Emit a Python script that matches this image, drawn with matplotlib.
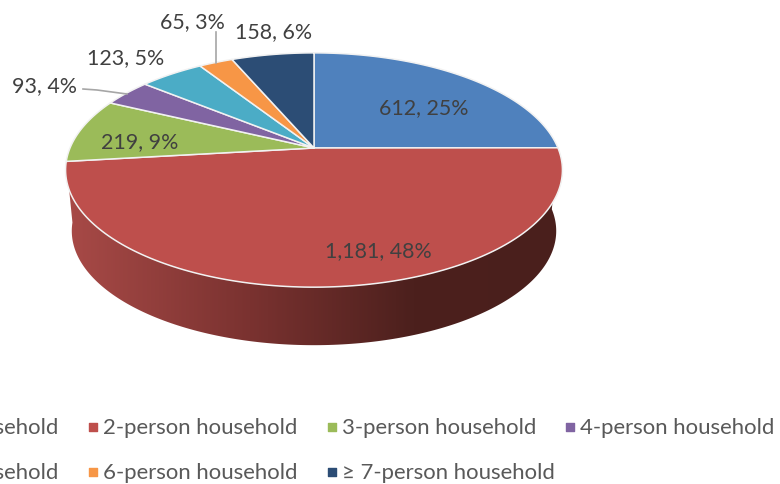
import numpy as np
import matplotlib
matplotlib.use('Agg')
import matplotlib.pyplot as plt
from matplotlib.colors import LinearSegmentedColormap
from matplotlib.patches import Polygon

plt.rcParams['font.family'] = ['Lato', 'DejaVu Sans']

categories = ['1-person household', '2-person household', '3-person household', '4-person household',
              '5-person household', '6-person household', '≥ 7-person household']
values = [612, 1181, 219, 93, 123, 65, 158]
percents = [25, 48, 9, 4, 5, 3, 6]
colors = ['#4F81BD', '#BE4F4C', '#9BBB59', '#8064A2', '#4BACC6', '#F79646', '#2C4D75']
text_color = '#404040'

# axes in reference pixels
fig = plt.figure(figsize=(7.8, 4.85), dpi=100)
ax = fig.add_axes([0, 0, 1, 1])
ax.set_xlim(0, 780)
ax.set_ylim(485, 0)
ax.axis('off')

# apex of the pie and the tilt of its plane
cx, cy = 314, 149
b, a, k = 244, 113, 0.188


def project(theta, scale=1.0, drop=0.0):
    # circle -> screen, perspective so the near side looks bigger
    u, v = np.cos(theta), np.sin(theta)
    d = 1 + k * v
    return cx + scale * b * u / d, cy - scale * a * v / d + drop


# wedge angles, clockwise from 12 o'clock
total = sum(values)
edges = np.pi / 2 - 2 * np.pi * np.cumsum([0] + values) / total

# side wall of the 2-person wedge
wall_t = np.linspace(edges[1], edges[2], 200)
tx, ty = project(wall_t)
bx, by = project(wall_t[::-1], scale=0.975, drop=61.5)
wall = Polygon(np.column_stack([np.r_[tx, bx], np.r_[ty, by]]), closed=True,
               facecolor='none', edgecolor='none', transform=ax.transData)
ax.add_patch(wall)
wall_cmap = LinearSegmentedColormap.from_list('wall', [(0, '#A84A47'), (0.37, '#7A3230'),
                                                       (0.7, '#4C201D'), (1, '#4A1F1C')])
grad = ax.imshow(np.linspace(0, 1, 256).reshape(1, -1), cmap=wall_cmap, aspect='auto',
                 extent=(66, 563, 350, 140), zorder=1)
grad.set_clip_path(wall)
ax.set_xlim(0, 780)
ax.set_ylim(485, 0)

# top surface
for i, c in enumerate(colors):
    t = np.linspace(edges[i], edges[i + 1], 150)
    x, y = project(t)
    ax.fill(np.r_[cx, x], np.r_[cy, y], facecolor=c, edgecolor='#F2F2F2', linewidth=1.1,
            joinstyle='round', zorder=2)

# data labels
label_xy = [(424, 108), (378, 251), (140, 142), (44, 86), (126, 58), (192, 22), (274, 32)]
for v, p, (lx, ly) in zip(values, percents, label_xy):
    ax.text(lx, ly, f'{v:,}, {p}%', ha='center', va='center', fontsize=15.4, color=text_color, zorder=4)

# leader lines
ax.plot([83, 97, 127], [90, 91, 95], color='#A6A6A6', lw=1.2, zorder=3)
ax.plot([216, 216], [33, 64], color='#A6A6A6', lw=1.2, zorder=3)

# legend, first column runs off the left edge like the original
col_x = [-152, 87, 326, 564]
row_y = [428, 473]
for i, (name, c) in enumerate(zip(categories, colors)):
    sx = col_x[i % 4]
    sy = row_y[i // 4]
    ax.scatter([sx + 6], [sy], marker='s', s=30, color=c, zorder=3, clip_on=False)
    ax.text(sx + 16, sy + 0.5, name, ha='left', va='center', fontsize=15.9, color='#595959')

fig.savefig('out.png', dpi=100)
plt.close(fig)
